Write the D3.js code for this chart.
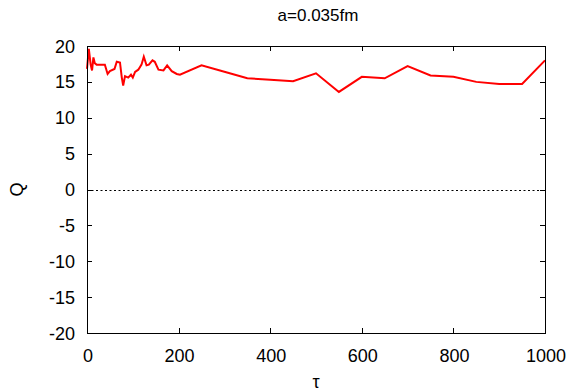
<!DOCTYPE html>
<html>
<head>
<meta charset="utf-8">
<script src="https://cdn.jsdelivr.net/npm/d3@7"></script>
<style>
  body { margin: 0; background: #fff; }
  text { font-family: "Liberation Sans", Arial, sans-serif; fill: #000; }
</style>
</head>
<body>
<svg id="chart" width="573" height="392"></svg>
<script>
// values
var tau = [0, 4, 8, 11, 14, 17, 21, 39, 45, 50, 60, 65, 72, 76, 79, 83, 90, 96, 100,
  105, 112, 119, 124, 130, 135, 143, 148, 156, 167, 175, 185, 196, 203,
  250, 300, 350, 400, 450, 500, 550, 600, 650, 700, 750, 800, 850, 900, 950, 1000];
var q = [16.8, 19.6, 17.4, 16.6, 18.4, 17.6, 17.4, 17.4, 16.1, 16.5, 16.8, 17.8, 17.7, 15.6, 14.5, 15.8, 15.6, 16.0, 15.6,
  16.4, 16.7, 17.4, 18.5, 17.3, 17.4, 18.0, 17.8, 16.7, 16.6, 17.3, 16.5, 16.1, 16.0,
  17.3, 16.4, 15.5, 15.3, 15.1, 16.2, 13.6, 15.7, 15.5, 17.2, 15.9, 15.7, 15.0, 14.7, 14.7, 18.0];
var xTicks = [0, 200, 400, 600, 800, 1000];
var yTicks = [-20, -15, -10, -5, 0, 5, 10, 15, 20];
var title = "a=0.035fm";

var svg = d3.select("#chart");
var mLeft = 87, mRight = 545, mTop = 46, mBottom = 333;

var x = d3.scaleLinear().domain([0, 1000]).range([mLeft, mRight]);
var y = d3.scaleLinear().domain([-20, 20]).range([mBottom, mTop]);

var tickLen = 5;
var fs = 18;

// zero line
svg.append("line")
  .attr("x1", x(0)).attr("x2", x(1000))
  .attr("y1", Math.round(y(0)) + 0.5).attr("y2", Math.round(y(0)) + 0.5)
  .attr("stroke", "#000").attr("stroke-width", 1)
  .attr("stroke-dasharray", "2,2.5");

// data line
var pts = tau.map(function(t, i) { return [t, q[i]]; });
svg.append("path")
  .datum(pts)
  .attr("fill", "none")
  .attr("stroke", "#ff0000")
  .attr("stroke-width", 2)
  .attr("stroke-linejoin", "miter")
  .attr("d", d3.line().x(function(d) { return x(d[0]); }).y(function(d) { return y(d[1]); }));

// ticks on all sides, pointing inward
var g = svg.append("g").attr("stroke", "#000").attr("stroke-width", 1);
xTicks.forEach(function(t) {
  var px = Math.round(x(t)) + 0.5;
  g.append("line").attr("x1", px).attr("x2", px).attr("y1", mBottom).attr("y2", mBottom - tickLen);
  g.append("line").attr("x1", px).attr("x2", px).attr("y1", mTop).attr("y2", mTop + tickLen);
});
yTicks.forEach(function(t) {
  var py = Math.round(y(t)) + 0.5;
  g.append("line").attr("x1", mLeft).attr("x2", mLeft + tickLen).attr("y1", py).attr("y2", py);
  g.append("line").attr("x1", mRight).attr("x2", mRight - tickLen).attr("y1", py).attr("y2", py);
});

// frame
svg.append("rect")
  .attr("x", mLeft + 0.5).attr("y", mTop + 0.5)
  .attr("width", mRight - mLeft).attr("height", mBottom - mTop)
  .attr("fill", "none").attr("stroke", "#000").attr("stroke-width", 1);

// tick labels
svg.selectAll(".xl").data(xTicks).enter().append("text")
  .attr("x", function(d) { return x(d) + 1; })
  .attr("y", mBottom + 29)
  .attr("text-anchor", "middle")
  .attr("font-size", fs)
  .text(function(d) { return d; });

svg.selectAll(".yl").data(yTicks).enter().append("text")
  .attr("x", mLeft - 12)
  .attr("y", function(d) { return y(d) + 6.5; })
  .attr("text-anchor", "end")
  .attr("font-size", fs)
  .text(function(d) { return d; });

// title and axis labels
svg.append("text")
  .attr("x", (mLeft + mRight) / 2 + 2).attr("y", 21)
  .attr("text-anchor", "middle").attr("font-size", 17)
  .text(title);

svg.append("text")
  .attr("x", (mLeft + mRight) / 2).attr("y", 388)
  .attr("text-anchor", "middle").attr("font-size", fs)
  .text("τ");

svg.append("text")
  .attr("transform", "translate(23," + y(0) + ") rotate(-90)")
  .attr("text-anchor", "middle").attr("font-size", fs)
  .text("Q");
</script>
</body>
</html>
